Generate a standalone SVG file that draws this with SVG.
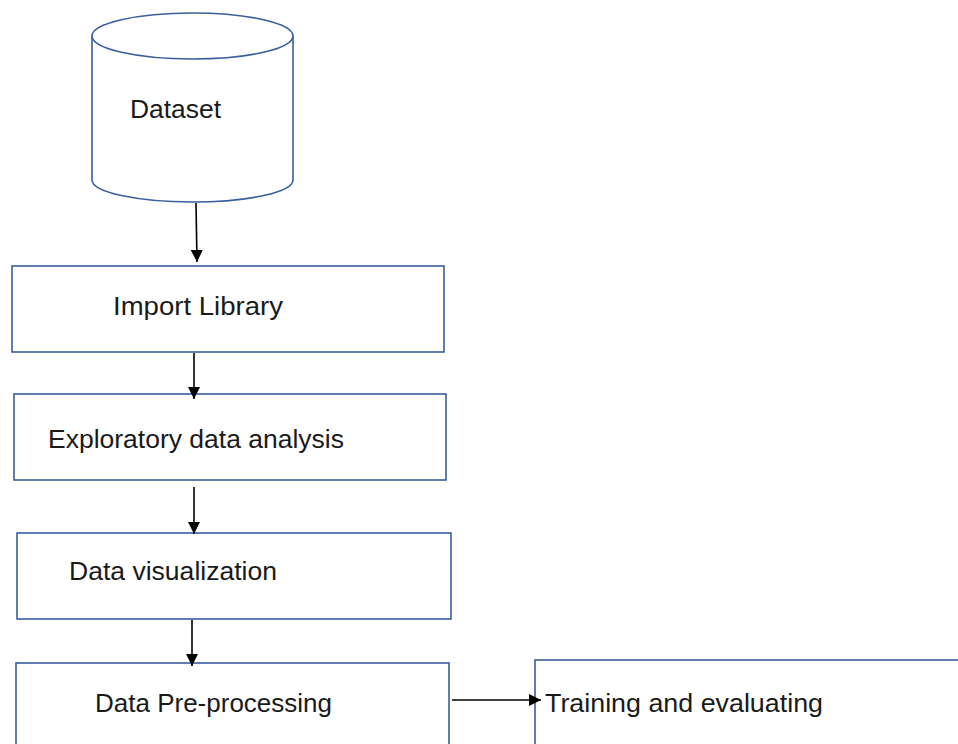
<svg xmlns="http://www.w3.org/2000/svg" width="958" height="744" viewBox="0 0 958 744">
<style>
.box{fill:#fff;stroke:#3A5E9E;stroke-width:1.6}
.lbl{font-family:"Liberation Sans",Arial,sans-serif;font-size:26px;fill:#1a1a1a}
.con{stroke:#000;stroke-width:1.6;fill:none}
</style>
<defs>
<marker id="ah" viewBox="0 0 10 10" refX="10" refY="5" markerWidth="12" markerHeight="12" markerUnits="userSpaceOnUse" orient="auto">
<path d="M0,0 L10,5 L0,10 Z" fill="#000"/>
</marker>
</defs>
<rect width="958" height="744" fill="#fff"/>
<g id="dataset">
<path class="box" d="M92,36 L92,180 A100.5,22 0 0 0 293,180 L293,36"/>
<ellipse class="box" cx="192.5" cy="36" rx="100.5" ry="23"/>
<text class="lbl" x="130" y="118" textLength="91" lengthAdjust="spacingAndGlyphs">Dataset</text>
</g>
<g id="import">
<rect class="box" x="12" y="266" width="432" height="86"/>
<text class="lbl" x="113" y="315" textLength="170" lengthAdjust="spacingAndGlyphs">Import Library</text>
</g>
<g id="eda">
<rect class="box" x="14" y="394" width="432" height="86"/>
<text class="lbl" x="48" y="448" textLength="296" lengthAdjust="spacingAndGlyphs">Exploratory data analysis</text>
</g>
<g id="viz">
<rect class="box" x="17" y="533" width="434" height="86"/>
<text class="lbl" x="69" y="580" textLength="208" lengthAdjust="spacingAndGlyphs">Data visualization</text>
</g>
<g id="prep">
<rect class="box" x="16" y="663" width="433" height="100"/>
<text class="lbl" x="95" y="712" textLength="237" lengthAdjust="spacingAndGlyphs">Data Pre-processing</text>
</g>
<g id="train">
<rect class="box" x="535" y="660" width="440" height="100"/>
<text class="lbl" x="545" y="712" textLength="278" lengthAdjust="spacingAndGlyphs">Training and evaluating</text>
</g>
<g id="connectors">
<line class="con" x1="196" y1="203" x2="197" y2="262" marker-end="url(#ah)"/>
<line class="con" x1="194" y1="353" x2="194" y2="399" marker-end="url(#ah)"/>
<line class="con" x1="194" y1="487" x2="194" y2="534" marker-end="url(#ah)"/>
<line class="con" x1="192" y1="620" x2="192" y2="666" marker-end="url(#ah)"/>
<line class="con" x1="452" y1="700" x2="541" y2="700" marker-end="url(#ah)"/>
</g>
</svg>
